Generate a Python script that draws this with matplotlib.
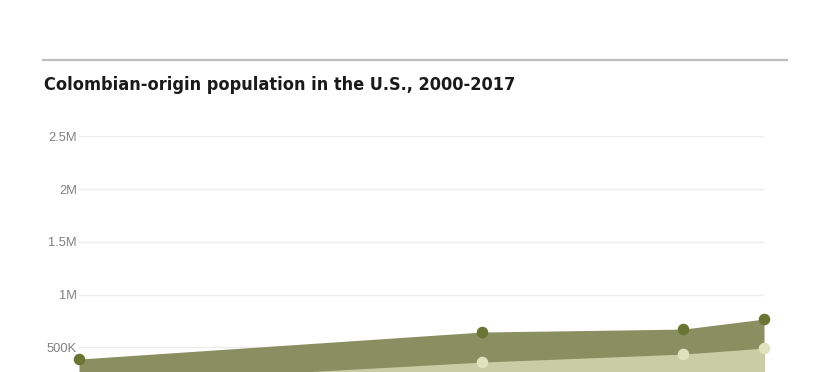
import matplotlib
matplotlib.use("Agg")
import matplotlib.pyplot as plt
from matplotlib.ticker import FixedLocator, FixedFormatter
from matplotlib.lines import Line2D

years = [2000, 2010, 2015, 2017]
foreign_born = [389000, 645000, 673000, 768000]
us_born = [150000, 360000, 436000, 493000]
ytick_values = [500000, 1000000, 1500000, 2000000, 2500000]
ytick_labels = ["500K", "1M", "1.5M", "2M", "2.5M"]
title = "Colombian-origin population in the U.S., 2000-2017"

W, H = 834, 372
fig = plt.figure(figsize=(W / 100, H / 100), dpi=100)
fig.patch.set_facecolor("white")

left_px, right_px = 79, 764
top_px, zero_px = 136.3, 400.1
ax = fig.add_axes([left_px / W, (H - zero_px) / H,
                   (right_px - left_px) / W, (zero_px - top_px) / H])
ax.set_xlim(2000, 2017)
ax.set_ylim(0, 2500000)

dark_fill = "#8a8f61"
dark_pt = "#6a7433"
light_fill = "#c9cda3"
light_pt = "#dfe2bd"

ax.fill_between(years, 0, foreign_born, color=dark_fill, lw=0, zorder=2)
ax.fill_between(years, 0, us_born, color=light_fill, lw=0, zorder=3)
ax.plot(years, foreign_born, ls="none", marker="o", ms=7.3, color=dark_pt,
        mec=dark_pt, zorder=5, clip_on=False)
ax.plot(years, us_born, ls="none", marker="o", ms=7.3, color=light_pt,
        mec=light_pt, zorder=5, clip_on=False)

ax.yaxis.set_major_locator(FixedLocator(ytick_values))
ax.yaxis.set_major_formatter(FixedFormatter(ytick_labels))
ax.tick_params(axis="y", length=0, pad=1.5, labelsize=9.3, labelcolor="#808080")
ax.tick_params(axis="x", length=0, labelbottom=False)
for lbl in ax.get_yticklabels():
    lbl.set_family(["Liberation Sans", "DejaVu Sans"])
ax.grid(axis="y", color="#ececec", lw=1, zorder=1)
ax.set_axisbelow(True)
for s in ax.spines.values():
    s.set_visible(False)

# Top rule
fig.add_artist(Line2D([43.3 / W, 786.7 / W], [(H - 60.3) / H] * 2,
                      color="#bdbdbd", lw=1.6, transform=fig.transFigure))
fig.text(43.5 / W, (H - 90.2) / H, title, fontsize=13.0, fontweight="bold",
         fontstretch="condensed",
         color="#1a1a1a", family=["DejaVu Sans"],
         ha="left", va="baseline")

fig.savefig("out.png", dpi=100, facecolor="white")
